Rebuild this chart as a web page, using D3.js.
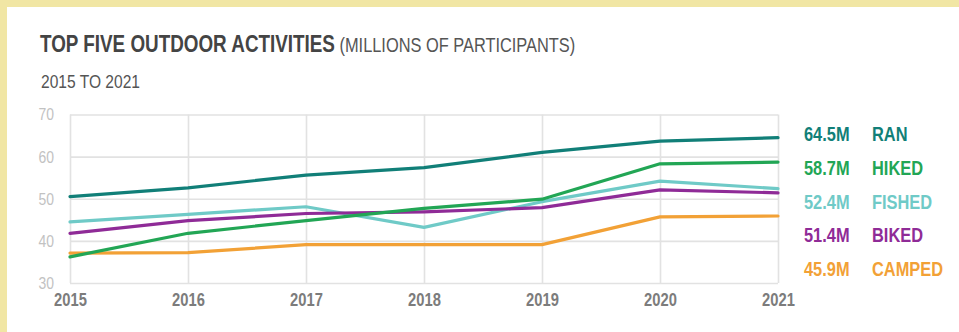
<!DOCTYPE html>
<html>
<head>
<meta charset="utf-8">
<script src="https://cdn.jsdelivr.net/npm/d3@7/dist/d3.min.js"></script>
<style>
  html, body { margin: 0; padding: 0; background: #f1e6a4; }
  svg { display: block; }
  text { font-family: "Liberation Sans", Arial, sans-serif; }
</style>
</head>
<body>
<svg id="chart" width="959" height="332"></svg>
<script>
// Participation by year, millions of participants
const years = [2015, 2016, 2017, 2018, 2019, 2020, 2021];
const ran    = [50.5, 52.6, 55.6, 57.4, 61.0, 63.7, 64.5];
const hiked  = [36.2, 41.8, 44.8, 47.7, 49.9, 58.3, 58.7];
const fished = [44.5, 46.3, 48.1, 43.2, 49.3, 54.2, 52.4];
const biked  = [41.8, 44.8, 46.5, 46.9, 47.9, 52.1, 51.4];
const camped = [37.1, 37.2, 39.1, 39.1, 39.1, 45.7, 45.9];

const activityNames = ["RAN", "HIKED", "FISHED", "BIKED", "CAMPED"];
const activityValues = [ran, hiked, fished, biked, camped];
const activityColors = ["#117f78", "#22a655", "#6fcac7", "#8f2b97", "#f2a136"];
const yTicks = [30, 40, 50, 60, 70];

// condensed look: squeeze glyphs horizontally
const NARROW = 0.82;

const svg = d3.select("#chart");

// white card on the khaki page
svg.append("rect").attr("x", 7).attr("y", 7).attr("width", 952).attr("height", 325).attr("fill", "#ffffff");

function narrowText(parent, x, y) {
  return parent.append("g").attr("transform", `translate(${x},${y})`)
    .append("text").attr("transform", `scale(${NARROW},1)`);
}

// headings
const title = narrowText(svg, 40, 52).attr("fill", "#444");
title.append("tspan").attr("font-weight", "bold").attr("font-size", 23).text("TOP FIVE OUTDOOR ACTIVITIES");
title.append("tspan").attr("font-size", 20).attr("fill", "#555").text(" (MILLIONS OF PARTICIPANTS)");

narrowText(svg, 41, 88).attr("font-size", 19).attr("fill", "#555").text("2015 TO 2021");

const x = d3.scaleLinear().domain([2015, 2021]).range([70, 778]);
const y = d3.scaleLinear().domain([30, 70]).range([283, 114.5]);

// horizontal grid + y labels
const yAxis = svg.append("g").attr("transform", "translate(70,0)")
  .call(d3.axisLeft(y).tickValues(yTicks).tickSize(-(778 - 70)).tickFormat(d3.format("d")));
yAxis.select(".domain").remove();
yAxis.selectAll(".tick line").attr("stroke", "#e2e2e2").attr("stroke-width", 1.6);
yAxis.selectAll(".tick text")
  .attr("x", -16 / NARROW).attr("transform", `scale(${NARROW},1)`)
  .attr("fill", "#c2c2c2").attr("font-size", 17)
  .style("font-family", '"Liberation Sans", Arial, sans-serif');

// vertical grid + x labels
const xAxis = svg.append("g").attr("transform", "translate(0,283)")
  .call(d3.axisBottom(x).tickValues(years).tickSize(-(283 - 114.5)).tickFormat(d3.format("d")));
xAxis.select(".domain").remove();
xAxis.selectAll(".tick line").attr("stroke", "#e2e2e2").attr("stroke-width", 1.6);
xAxis.selectAll(".tick text")
  .attr("y", 10).attr("transform", `scale(${NARROW},1)`)
  .attr("fill", "#7c7c7c").attr("font-size", 18).attr("font-weight", "bold")
  .style("font-family", '"Liberation Sans", Arial, sans-serif');

// series lines
const line = d3.line().x((d, i) => x(years[i])).y(d => y(d));
const drawOrder = [4, 2, 3, 1, 0];
drawOrder.forEach(k => {
  svg.append("path").datum(activityValues[k])
    .attr("d", line).attr("fill", "none")
    .attr("stroke", activityColors[k]).attr("stroke-width", 3.2)
    .attr("stroke-linejoin", "round").attr("stroke-linecap", "round");
});

// end labels: latest value and activity name
const labelY = d3.scalePoint().domain(activityNames).range([134, 269]);
activityNames.forEach((name, k) => {
  const vals = activityValues[k];
  narrowText(svg, 804, labelY(name))
    .attr("dy", "0.36em").attr("font-weight", "bold").attr("font-size", 20).attr("fill", activityColors[k])
    .text(d3.format(".1f")(vals[vals.length - 1]) + "M");
  narrowText(svg, 872, labelY(name))
    .attr("dy", "0.36em").attr("font-weight", "bold").attr("font-size", 20).attr("fill", activityColors[k])
    .text(name);
});
</script>
</body>
</html>
